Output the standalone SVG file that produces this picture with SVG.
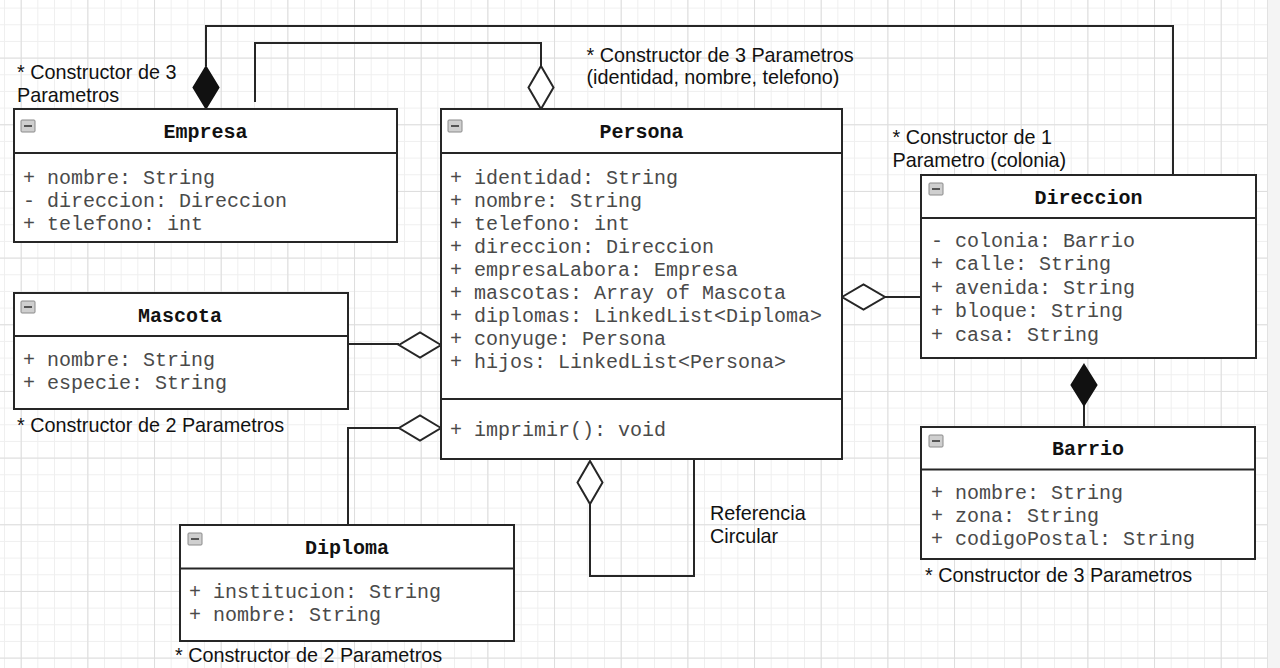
<svg xmlns="http://www.w3.org/2000/svg" width="1280" height="668" viewBox="0 0 1280 668">
  <defs>
    <!-- canvas grid: fine lines every 16.67px, stronger lines every 4 cells -->
    <pattern id="gridMinor" patternUnits="userSpaceOnUse" x="4" y="7.6" width="16.667" height="16.667">
      <rect x="0" y="0" width="1" height="16.667" fill="#efefef"/>
      <rect x="0" y="0" width="16.667" height="1" fill="#efefef"/>
    </pattern>
    <pattern id="gridMajor" patternUnits="userSpaceOnUse" x="20.7" y="57.6" width="66.667" height="66.667">
      <rect x="0" y="0" width="1" height="66.667" fill="#dddddd"/>
      <rect x="0" y="0" width="66.667" height="1" fill="#dddddd"/>
    </pattern>
    <!-- collapse toggle shown in each class header -->
    <g id="toggle">
      <rect x="0" y="0" width="14" height="12" rx="1" fill="#cfcfcf" stroke="#8a8a8a" stroke-width="1"/>
      <rect x="3" y="5" width="8" height="2" fill="#555"/>
    </g>
  </defs>
  <style>
    .box { fill: #ffffff; stroke: #262626; stroke-width: 2; }
    .sep { stroke: #262626; stroke-width: 2; fill: none; }
    .title { font-family: "Liberation Mono", "Courier New", monospace; font-size: 20px; font-weight: bold; fill: #111; text-anchor: middle; }
    .attr { font-family: "Liberation Mono", "Courier New", monospace; font-size: 20px; fill: #4a4a4a; }
    .note { font-family: "Liberation Sans", Arial, sans-serif; font-size: 19.8px; fill: #111; }
    .edge { fill: none; stroke: #262626; stroke-width: 2; }
    .hollow { fill: #ffffff; stroke: #262626; stroke-width: 2; stroke-linejoin: miter; }
    .filled { fill: #111; stroke: #111; stroke-width: 2; stroke-linejoin: miter; }
  </style>

  <!-- background -->
  <rect x="0" y="0" width="1280" height="668" fill="#ffffff"/>
  <rect x="0" y="0" width="1267" height="668" fill="url(#gridMinor)"/>
  <rect x="0" y="0" width="1267" height="668" fill="url(#gridMajor)"/>
  <rect x="1267" y="0" width="13" height="668" fill="#f4f4f4"/>
  <line x1="1267.5" y1="0" x2="1267.5" y2="668" stroke="#e2e2e2" stroke-width="1"/>

  <!-- connectors -->
  <g id="connectors">
    <path class="edge" d="M206 66 V26 H1173 V175"/>
    <path class="edge" d="M255 102 V43 H541 V66"/>
    <path class="edge" d="M885 297 H921"/>
    <path class="edge" d="M348 344 H399"/>
    <path class="edge" d="M399 428 H348 V525"/>
    <path class="edge" d="M590 504 V576 H694 V459"/>
    <path class="edge" d="M1084 405 V427 H1153"/>
    <!-- diamonds -->
    <polygon class="filled" points="206,67 218.5,87.5 206,108 193.5,87.5"/>
    <polygon class="hollow" points="541,66 553.5,87.5 541,109 528.5,87.5"/>
    <polygon class="hollow" points="842,297 863.5,284.5 885,297 863.5,309.5"/>
    <polygon class="hollow" points="441,345 420,332.5 399,345 420,357.5"/>
    <polygon class="hollow" points="441,428 420,415.5 399,428 420,440.5"/>
    <polygon class="hollow" points="590,461 602.5,482.5 590,504 577.5,482.5"/>
    <polygon class="filled" points="1084,365 1096.5,385 1084,405 1071.5,385"/>
  </g>

  <!-- Empresa -->
  <g id="empresa">
    <rect class="box" x="14" y="109" width="383" height="133"/>
    <line class="sep" x1="14" y1="153" x2="397" y2="153"/>
    <use href="#toggle" x="21" y="120"/>
    <text class="title" x="205.5" y="138">Empresa</text>
    <text class="attr" x="23" y="183.5">+ nombre: String</text>
    <text class="attr" x="23" y="206.5">- direccion: Direccion</text>
    <text class="attr" x="23" y="229.5">+ telefono: int</text>
    <text class="note" x="17" y="79">* Constructor de 3</text>
    <text class="note" x="17" y="101.5">Parametros</text>
  </g>

  <!-- Persona -->
  <g id="persona">
    <rect class="box" x="441" y="109" width="401" height="350"/>
    <line class="sep" x1="441" y1="153" x2="842" y2="153"/>
    <line class="sep" x1="441" y1="399" x2="842" y2="399"/>
    <use href="#toggle" x="448" y="120"/>
    <text class="title" x="641.5" y="138">Persona</text>
    <text class="attr" x="450" y="183.5">+ identidad: String</text>
    <text class="attr" x="450" y="206.6">+ nombre: String</text>
    <text class="attr" x="450" y="229.7">+ telefono: int</text>
    <text class="attr" x="450" y="252.8">+ direccion: Direccion</text>
    <text class="attr" x="450" y="275.9">+ empresaLabora: Empresa</text>
    <text class="attr" x="450" y="299">+ mascotas: Array of Mascota</text>
    <text class="attr" x="450" y="322.1">+ diplomas: LinkedList&lt;Diploma&gt;</text>
    <text class="attr" x="450" y="345.2">+ conyuge: Persona</text>
    <text class="attr" x="450" y="368.3">+ hijos: LinkedList&lt;Persona&gt;</text>
    <text class="attr" x="450" y="435.5">+ imprimir(): void</text>
    <text class="note" x="586.5" y="61.5">* Constructor de 3 Parametros</text>
    <text class="note" x="586.5" y="84">(identidad, nombre, telefono)</text>
    <text class="note" x="710" y="520">Referencia</text>
    <text class="note" x="710" y="543">Circular</text>
  </g>

  <!-- Direccion -->
  <g id="direccion">
    <rect class="box" x="921" y="175" width="335" height="183"/>
    <line class="sep" x1="921" y1="218" x2="1256" y2="218"/>
    <use href="#toggle" x="929" y="183"/>
    <text class="title" x="1088.5" y="203.5">Direccion</text>
    <text class="attr" x="931" y="246.7">- colonia: Barrio</text>
    <text class="attr" x="931" y="270.2">+ calle: String</text>
    <text class="attr" x="931" y="293.7">+ avenida: String</text>
    <text class="attr" x="931" y="317.2">+ bloque: String</text>
    <text class="attr" x="931" y="340.7">+ casa: String</text>
    <text class="note" x="892.5" y="144.3">* Constructor de 1</text>
    <text class="note" x="892.5" y="166.7">Parametro (colonia)</text>
  </g>

  <!-- Barrio -->
  <g id="barrio">
    <rect class="box" x="921" y="427" width="334" height="132"/>
    <line class="sep" x1="921" y1="469.5" x2="1255" y2="469.5"/>
    <use href="#toggle" x="929" y="435"/>
    <text class="title" x="1088" y="455">Barrio</text>
    <text class="attr" x="931" y="499">+ nombre: String</text>
    <text class="attr" x="931" y="522">+ zona: String</text>
    <text class="attr" x="931" y="545">+ codigoPostal: String</text>
    <text class="note" x="925" y="582">* Constructor de 3 Parametros</text>
  </g>

  <!-- Mascota -->
  <g id="mascota">
    <rect class="box" x="14" y="293" width="334" height="116"/>
    <line class="sep" x1="14" y1="336" x2="348" y2="336"/>
    <use href="#toggle" x="21" y="301"/>
    <text class="title" x="180" y="321.7">Mascota</text>
    <text class="attr" x="23" y="366">+ nombre: String</text>
    <text class="attr" x="23" y="389">+ especie: String</text>
    <text class="note" x="17" y="432">* Constructor de 2 Parametros</text>
  </g>

  <!-- Diploma -->
  <g id="diploma">
    <rect class="box" x="180" y="525" width="334" height="116"/>
    <line class="sep" x1="180" y1="568.5" x2="514" y2="568.5"/>
    <use href="#toggle" x="188" y="533"/>
    <text class="title" x="347" y="553.5">Diploma</text>
    <text class="attr" x="189" y="597.5">+ institucion: String</text>
    <text class="attr" x="189" y="620.5">+ nombre: String</text>
    <text class="note" x="175" y="662">* Constructor de 2 Parametros</text>
  </g>
</svg>
